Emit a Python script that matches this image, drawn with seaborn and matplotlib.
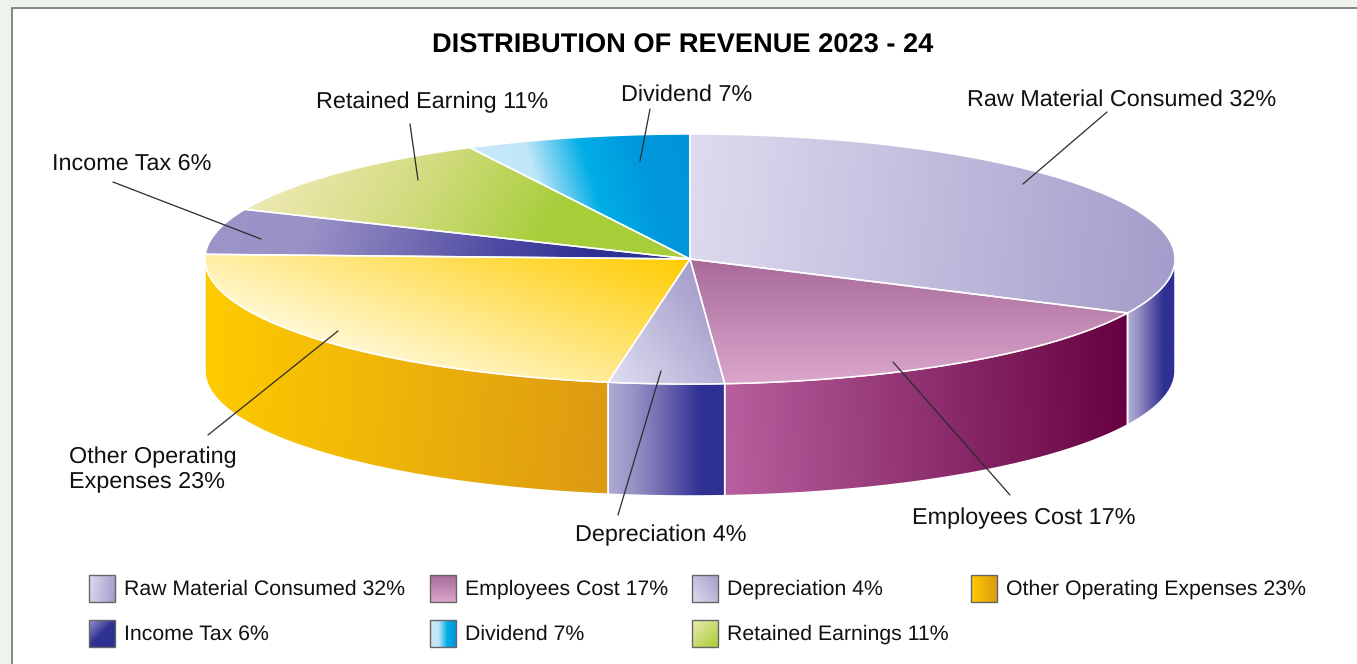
import numpy as np
import seaborn as sns
import matplotlib.pyplot as plt
from matplotlib.patches import Polygon, Rectangle

# values
categories = ['Raw Material Consumed', 'Employees Cost', 'Depreciation',
              'Other Operating Expenses', 'Income Tax', 'Retained Earnings', 'Dividend']
shares = [32, 17, 4, 23, 6, 11, 7]
drawn_shares = [32.1, 16.76, 3.84, 22.9, 5.9, 11.0, 7.5]
legend_order = [0, 1, 2, 3, 4, 6, 5]

sns.set_theme(style='white')
plt.rcParams['font.family'] = ['Liberation Sans', 'DejaVu Sans']
plt.rcParams['text.hinting'] = 'no_hinting'

# dessus : couleurs + direction du degrade (pixels)
top_colors = [
    (['#dedbef', '#a49dcb'], (1, 0.1)),
    (['#a86a9a', '#dba6cc'], (0, 1)),
    (['#dfddf0', '#a49dcb'], (1, -0.7)),
    (['#fff8d2', '#ffcc00'], (0.35, -1)),
    (['#9d94c8', '#9a91c6', '#7670b5', '#4e4aa3', '#2e3192', '#2e3192'], (1, 0.3)),
    (['#efe9b4', '#d3dc80', '#a6ce39', '#a6ce39'], (1, 0.6)),
    (['#c8e9fa', '#c0e6f9', '#00aee6', '#0098dc', '#0095da'], (1, -0.3)),
]
side_colors = [
    (['#b4aed6', '#8f89c2', '#5f5aa8', '#2e3192', '#2e3192'], (1, 0)),
    (['#b8609f', '#660040'], (1, -0.05)),
    (['#aeaad2', '#9a95c8', '#7a75b6', '#5552a6', '#2e3192', '#2e3192'], (1, 0)),
    (['#ffcc00', '#dc9a12'], (1, 0.1)),
]

cx, cy, rx, ry, depth = 690, 259, 485, 125, 112

fig = plt.figure(figsize=(13.57, 6.64), dpi=100, facecolor='#eef3ee')
ax = fig.add_axes([0, 0, 1, 1])
ax.set_axis_off()


def gradient_patch(pts, colors, direction, edge='white', lw=1.1, zorder=2):
    pts = np.asarray(pts)
    patch = Polygon(pts, closed=True, facecolor='none', edgecolor=edge, linewidth=lw, zorder=zorder + 0.5)
    ax.add_patch(patch)
    x0, y0 = pts.min(axis=0)
    x1, y1 = pts.max(axis=0)
    X, Y = np.meshgrid(np.linspace(x0, x1, 300), np.linspace(y0, y1, 300))
    proj = pts[:, 0] * direction[0] + pts[:, 1] * direction[1]
    t = (X * direction[0] + Y * direction[1] - proj.min()) / (proj.max() - proj.min())
    cmap = sns.blend_palette(colors, n_colors=256, as_cmap=True)
    im = ax.imshow(t, extent=(x0, x1, y1, y0), cmap=cmap, vmin=0, vmax=1,
                   aspect='auto', zorder=zorder, interpolation='bilinear')
    im.set_clip_path(patch)


def rim(deg):
    a = np.radians(deg)
    return cx + rx * np.sin(a), cy - ry * np.cos(a)


# fond blanc du cadre
ax.add_patch(Rectangle((12, 8), 1400, 700, facecolor='white', edgecolor='#7d7d7d', linewidth=1.3, zorder=0))

edges = np.cumsum([0] + drawn_shares) / sum(drawn_shares) * 360

# cotes visibles (entre 90 et 270 degres)
side_idx = 0
for i in range(len(drawn_shares)):
    a0, a1 = max(edges[i], 90), min(edges[i + 1], 270)
    if a1 <= a0:
        continue
    arc = np.linspace(a0, a1, 80)
    xs, ys = rim(arc)
    pts = np.r_[np.c_[xs, ys], np.c_[xs[::-1], ys[::-1] + depth]]
    cols, direction = side_colors[side_idx]
    gradient_patch(pts, cols, direction, zorder=2)
    side_idx += 1

# dessus
for i in range(len(drawn_shares)):
    arc = np.linspace(edges[i], edges[i + 1], 120)
    xs, ys = rim(arc)
    pts = np.r_[[[cx, cy]], np.c_[xs, ys]]
    cols, direction = top_colors[i]
    gradient_patch(pts, cols, direction, zorder=3)

# titre
ax.text(682.5, 46, 'DISTRIBUTION OF REVENUE 2023 - 24', ha='center', va='center',
        fontsize=19.65, fontweight='bold', color='black', zorder=6)

# etiquettes et traits de rappel
slice_labels = ['Raw Material Consumed 32%', 'Employees Cost 17%', 'Depreciation 4%',
                'Other Operating\nExpenses 23%', 'Income Tax 6%', 'Retained Earning 11%', 'Dividend 7%']
label_pos = [(967, 106), (912, 524), (575, 541), (69, 487), (52, 170), (316, 108), (621, 101)]
leader_lines = [((1107, 112), (1023, 184)), ((1010, 495), (893, 362)), ((618, 515), (661, 371)),
                ((208, 435), (338, 331)), ((113, 182), (261, 239)), ((410, 124), (418, 180)),
                ((650, 109), (640, 161))]
for lab, pos, line in zip(slice_labels, label_pos, leader_lines):
    ax.text(pos[0], pos[1], lab, ha='left', va='baseline', fontsize=16.8, color='#111111',
            linespacing=1.16, zorder=6)
    ax.plot([line[0][0], line[1][0]], [line[0][1], line[1][1]], color='#2b2b2b', lw=0.9, zorder=5)

# legende
legend_x = [89, 430, 692, 971, 89, 430, 692]
legend_y = [575, 575, 575, 575, 620, 620, 620]
legend_grad = [top_colors[0], top_colors[1], top_colors[2], (['#ffcc00', '#dc9a12'], (1, 0)),
               (['#9d94c8', '#2e3192', '#2e3192'], (1, 1)), (['#c8e9fa', '#c0e6f9', '#00aee6', '#0095da'], (1, 0)),
               (['#efe9b4', '#a6ce39'], (1, 1))]
for k, i in enumerate(legend_order):
    x, y = legend_x[k], legend_y[k]
    cols, direction = legend_grad[k]
    gradient_patch([(x, y), (x + 26, y), (x + 26, y + 27), (x, y + 27)], cols, direction, edge='#666666', lw=1.0, zorder=3)
    ax.text(x + 35, y + 19.5, f'{categories[i]} {shares[i]}%', ha='left', va='baseline', fontsize=15.35,
            color='#111111', zorder=6)

ax.set_xlim(0, 1357)
ax.set_ylim(664, 0)
fig.savefig('out.png', dpi=100, facecolor=fig.get_facecolor())
